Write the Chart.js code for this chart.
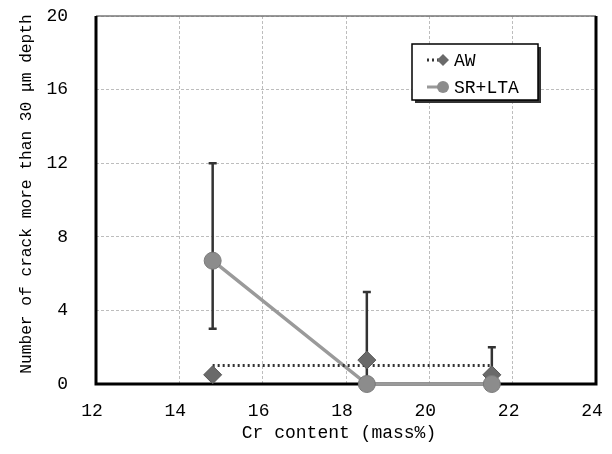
<!DOCTYPE html>
<html>
<head>
<meta charset="utf-8">
<script src="https://cdn.jsdelivr.net/npm/chart.js@4"></script>
<style>
  html, body { margin: 0; padding: 0; background: #fff; }
</style>
</head>
<body>
<canvas id="crack-chart" width="612" height="454"></canvas>
<script>
const crContent = [14.8, 18.5, 21.5];
const awCount = [0.5, 1.3, 0.5];
const awLevel = [1, 1, 1];
const srltaCount = [6.7, 0, 0];
const srltaLow = [3, 0, 0];
const srltaHigh = [12, 5, 2];
const xTicks = [12, 14, 16, 18, 20, 22, 24];
const yTicks = [0, 4, 8, 12, 16, 20];
const xTitle = 'Cr content (mass%)';
const yTitle = 'Number of crack more than 30 μm depth';

const FONT = "'Liberation Mono', 'DejaVu Sans Mono', monospace";

function pts(ys) {
    return crContent.map((x, i) => ({ x: x, y: ys[i] }));
}

// error bars go under the diamonds but over the lines
const errorBars = {
    id: 'errorBars',
    beforeDatasetDraw(chart, args) {
        if (args.index !== 1) return;
        const ctx = chart.ctx;
        const xs = chart.scales.x, ys = chart.scales.y;
        ctx.save();
        ctx.strokeStyle = '#333';
        ctx.lineWidth = 2.5;
        crContent.forEach((c, i) => {
            const px = xs.getPixelForValue(c);
            const top = ys.getPixelForValue(srltaHigh[i]);
            const bot = ys.getPixelForValue(srltaLow[i]);
            ctx.beginPath();
            ctx.moveTo(px, top);
            ctx.lineTo(px, bot);
            ctx.moveTo(px - 4, top);
            ctx.lineTo(px + 4, top);
            if (srltaLow[i] > 0) {
                ctx.moveTo(px - 4, bot);
                ctx.lineTo(px + 4, bot);
            }
            ctx.stroke();
        });
        ctx.restore();
    }
};

// frame round the plot: thin grey top, heavy black on the other sides
const frame = {
    id: 'frame',
    beforeDatasetsDraw(chart) {
        const a = chart.chartArea, ctx = chart.ctx;
        ctx.save();
        ctx.strokeStyle = '#777';
        ctx.lineWidth = 1.5;
        ctx.beginPath();
        ctx.moveTo(a.left, a.top);
        ctx.lineTo(a.right, a.top);
        ctx.stroke();
        ctx.strokeStyle = '#000';
        ctx.lineWidth = 3;
        ctx.beginPath();
        ctx.moveTo(a.left, a.top);
        ctx.lineTo(a.left, a.bottom);
        ctx.lineTo(a.right, a.bottom);
        ctx.lineTo(a.right, a.top);
        ctx.stroke();
        ctx.restore();
    }
};

// axis titles
const axisTitles = {
    id: 'axisTitles',
    afterDraw(chart) {
        const ctx = chart.ctx;
        ctx.save();
        ctx.fillStyle = '#000';
        ctx.textAlign = 'center';
        ctx.textBaseline = 'middle';
        ctx.font = '18px ' + FONT;
        ctx.fillText(xTitle, 339, 433);
        ctx.translate(27, 194);
        ctx.rotate(-Math.PI / 2);
        ctx.font = '16.2px ' + FONT;
        ctx.fillText(yTitle, 0, 0);
        ctx.restore();
    }
};

// boxed legend with a drop shadow
const boxLegend = {
    id: 'boxLegend',
    afterDraw(chart) {
        const ctx = chart.ctx;
        const bx = 412, by = 44, bw = 126, bh = 56;
        ctx.save();
        ctx.fillStyle = '#333';
        ctx.fillRect(bx + 3, by + 3, bw, bh);
        ctx.fillStyle = '#fff';
        ctx.fillRect(bx, by, bw, bh);
        ctx.strokeStyle = '#000';
        ctx.lineWidth = 1.5;
        ctx.strokeRect(bx, by, bw, bh);

        // AW
        ctx.strokeStyle = '#333';
        ctx.lineWidth = 3;
        ctx.setLineDash([2, 3]);
        ctx.beginPath();
        ctx.moveTo(427, 60);
        ctx.lineTo(442, 60);
        ctx.stroke();
        ctx.setLineDash([]);
        ctx.fillStyle = '#6a6a6a';
        ctx.beginPath();
        ctx.moveTo(443, 54);
        ctx.lineTo(449, 60);
        ctx.lineTo(443, 66);
        ctx.lineTo(437, 60);
        ctx.closePath();
        ctx.fill();

        // SR+LTA
        ctx.strokeStyle = '#999';
        ctx.lineWidth = 3;
        ctx.beginPath();
        ctx.moveTo(427, 87);
        ctx.lineTo(442, 87);
        ctx.stroke();
        ctx.fillStyle = '#8c8c8c';
        ctx.beginPath();
        ctx.arc(443, 87, 6, 0, Math.PI * 2);
        ctx.fill();

        ctx.fillStyle = '#000';
        ctx.font = '18px ' + FONT;
        ctx.textBaseline = 'middle';
        ctx.fillText('AW', 454, 61);
        ctx.fillText('SR+LTA', 454, 88);
        ctx.restore();
    }
};

const gridStyle = {
    color: '#bdbdbd',
    lineWidth: 1,
    drawTicks: false,
    tickBorderDash: [],
};

new Chart(document.getElementById('crack-chart'), {
    type: 'scatter',
    data: {
        datasets: [
            {
                label: 'SR+LTA',
                data: pts(srltaCount),
                showLine: false,
                pointStyle: 'circle',
                pointRadius: 8.5,
                backgroundColor: '#8c8c8c',
                borderColor: '#7a7a7a',
                borderWidth: 1,
                clip: false
            },
            {
                label: 'AW',
                data: pts(awCount),
                showLine: false,
                pointStyle: 'rectRot',
                pointRadius: 9,
                backgroundColor: '#6a6a6a',
                borderColor: '#555',
                borderWidth: 1,
                clip: false
            },
            {
                label: 'AW line',
                data: pts(awLevel),
                showLine: true,
                pointRadius: 0,
                borderColor: '#333',
                borderWidth: 3,
                borderDash: [2, 3],
                clip: false
            },
            {
                label: 'SR+LTA line',
                data: pts(srltaCount),
                showLine: true,
                pointRadius: 0,
                borderColor: '#9a9a9a',
                borderWidth: 3.5,
                clip: false
            }
        ]
    },
    options: {
        responsive: false,
        animation: false,
        layout: { padding: { top: 16, right: 16, left: 0, bottom: 0 } },
        plugins: {
            legend: { display: false },
            tooltip: { enabled: false }
        },
        scales: {
            x: {
                type: 'linear',
                min: 12,
                max: 24,
                afterBuildTicks: axis => { axis.ticks = xTicks.map(v => ({ value: v })); },
                afterFit: axis => {
                    axis.height = 70;
                    axis.paddingLeft = 0;
                    axis.paddingRight = 0;
                },
                grid: gridStyle,
                border: { display: false, dash: [3, 2] },
                ticks: {
                    color: '#000',
                    padding: 16,
                    maxRotation: 0,
                    labelOffset: -4,
                    font: { family: FONT, size: 18 }
                }
            },
            y: {
                type: 'linear',
                min: 0,
                max: 20,
                afterBuildTicks: axis => { axis.ticks = yTicks.map(v => ({ value: v })); },
                afterFit: axis => {
                    axis.width = 96;
                    axis.paddingTop = 0;
                    axis.paddingBottom = 0;
                },
                grid: gridStyle,
                border: { display: false, dash: [3, 2] },
                ticks: {
                    color: '#000',
                    padding: 28,
                    font: { family: FONT, size: 18 }
                }
            }
        }
    },
    plugins: [frame, errorBars, axisTitles, boxLegend]
});
</script>
</body>
</html>
